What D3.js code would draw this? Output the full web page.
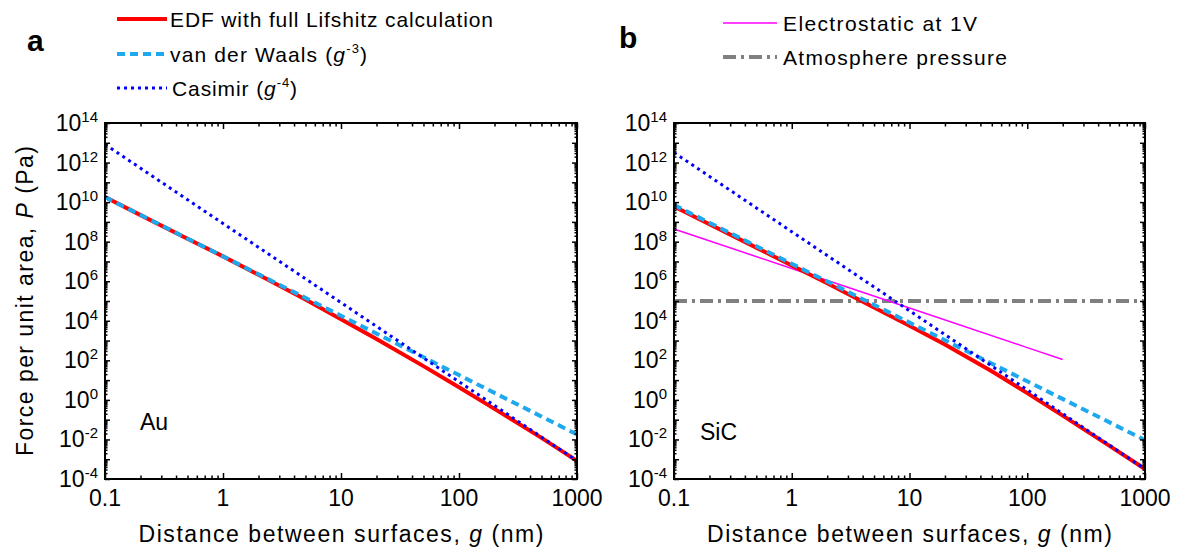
<!DOCTYPE html>
<html><head><meta charset="utf-8">
<script src="https://cdn.jsdelivr.net/npm/d3@7"></script>
<style>
html,body{margin:0;padding:0;background:#fff;}
svg{display:block;font-family:"Liberation Sans",Arial,sans-serif;}
</style></head><body>
<svg id="chart" width="1180" height="551"></svg>
<script>
// Gap distances (nm) at which the full Lifshitz pressure was sampled
const gapNm = [0.1, 0.2, 0.5, 1, 2, 5, 10, 20, 50, 100, 200, 500, 1000];
const edfAu  = [1.8e10, 2.2e9, 1.4e8, 1.8e7, 2.1e6, 1.2e5, 1.2e4, 1.2e3, 51, 4.4, 0.35, 0.012, 8.3e-4];
const edfSiC = [6.0e9, 7.6e8, 5.0e7, 6.3e6, 7.9e5, 4.7e4, 5.6e3, 630, 28, 2.2, 0.16, 4.7e-3, 3.2e-4];

// Power-law limits, one value per decade
const decadeNm   = [0.1, 1, 10, 100, 1000];
const vdwAu      = [1.8e10, 1.8e7, 1.8e4, 18, 0.018];
const casimirAu  = [8.3e12, 8.3e8, 8.3e4, 8.3, 8.3e-4];
const vdwSiC     = [7.1e9, 7.6e6, 8.1e3, 8.7, 9.3e-3];
const casimirSiC = [3.2e12, 3.2e8, 3.2e4, 3.2, 3.2e-4];

// Parallel-plate electrostatic pressure at 1 V, and one atmosphere
const elecNm = [0.1, 1, 10, 100, 200];
const elecP  = [4.4e8, 4.4e6, 4.4e4, 440, 110];
const atmNm  = [0.1, 1000];
const atmP   = [1.0e5, 1.0e5];

// Axis ticks
const xTickValues = [0.1, 1, 10, 100, 1000];
const xTickLabels = ["0.1", "1", "10", "100", "1000"];
const yTickExponents = [-4, -2, 0, 2, 4, 6, 8, 10, 12, 14];

const styles = {
  edf:     {stroke: "#ff0000", width: 4,   dash: null},
  vdw:     {stroke: "#1ea8ee", width: 4,   dash: "8,5"},
  casimir: {stroke: "#0000ff", width: 3,   dash: "3,4"},
  elec:    {stroke: "#ff00ff", width: 1.5, dash: null},
  atm:     {stroke: "#808080", width: 4,   dash: "13,5,3,5"}
};

const zip = (xs, ys) => xs.map((g, i) => ({g, p: ys[i]}));

const panels = [
  {left: 105, right: 577, top: 123, bottom: 479, material: "Au", matX: 140, matY: 430,
   series: [
     {key: "edf", pts: zip(gapNm, edfAu)},
     {key: "vdw", pts: zip(decadeNm, vdwAu)},
     {key: "casimir", pts: zip(decadeNm, casimirAu)}
   ]},
  {left: 674, right: 1145, top: 123, bottom: 479, material: "SiC", matX: 700, matY: 440,
   series: [
     {key: "atm", pts: zip(atmNm, atmP)},
     {key: "elec", pts: zip(elecNm, elecP)},
     {key: "edf", pts: zip(gapNm, edfSiC)},
     {key: "vdw", pts: zip(decadeNm, vdwSiC)},
     {key: "casimir", pts: zip(decadeNm, casimirSiC)}
   ]}
];

const svg = d3.select("#chart");

// minor ticks at 2..9 of each decade
function minorTicks(lo, hi) {
  const out = [];
  for (let e = lo; e < hi; e++) for (let k = 2; k <= 9; k++) out.push(k * Math.pow(10, e));
  return out;
}
const xMinor = minorTicks(-1, 3);
const yMinor = minorTicks(-4, 14);
const yMajor = d3.range(-4, 15).map(e => Math.pow(10, e));

panels.forEach(pn => {
  const x = d3.scaleLog().domain([0.1, 1000]).range([pn.left, pn.right]);
  const y = d3.scaleLog().domain([1e-4, 1e14]).range([pn.bottom, pn.top]);
  const g = svg.append("g");

  const line = d3.line().x(d => x(d.g)).y(d => y(d.p));
  pn.series.forEach(s => {
    const st = styles[s.key];
    g.append("path").datum(s.pts).attr("d", line)
      .attr("fill", "none").attr("stroke", st.stroke).attr("stroke-width", st.width)
      .attr("stroke-dasharray", st.dash);
  });

  // inward ticks on all four sides
  const addAxis = (axis, tx, ty) => {
    const a = g.append("g").attr("transform", `translate(${tx},${ty})`).call(axis);
    a.select(".domain").remove();
    a.selectAll("line").attr("stroke", "#000").attr("stroke-width", 1.5);
    a.selectAll("text").remove();
  };
  addAxis(d3.axisBottom(x).tickValues(xTickValues).tickSizeInner(-6).tickSizeOuter(0), 0, pn.bottom);
  addAxis(d3.axisBottom(x).tickValues(xMinor).tickSizeInner(-3.5).tickSizeOuter(0), 0, pn.bottom);
  addAxis(d3.axisTop(x).tickValues(xTickValues).tickSizeInner(-6).tickSizeOuter(0), 0, pn.top);
  addAxis(d3.axisTop(x).tickValues(xMinor).tickSizeInner(-3.5).tickSizeOuter(0), 0, pn.top);
  addAxis(d3.axisLeft(y).tickValues(yMajor).tickSizeInner(-5).tickSizeOuter(0), pn.left, 0);
  addAxis(d3.axisLeft(y).tickValues(yMinor).tickSizeInner(-2.5).tickSizeOuter(0), pn.left, 0);
  addAxis(d3.axisRight(y).tickValues(yMajor).tickSizeInner(-5).tickSizeOuter(0), pn.right, 0);
  addAxis(d3.axisRight(y).tickValues(yMinor).tickSizeInner(-2.5).tickSizeOuter(0), pn.right, 0);

  g.append("rect").attr("x", pn.left).attr("y", pn.top)
    .attr("width", pn.right - pn.left).attr("height", pn.bottom - pn.top)
    .attr("fill", "none").attr("stroke", "#000").attr("stroke-width", 2);

  // tick labels
  xTickValues.forEach((v, i) => {
    g.append("text").attr("x", x(v)).attr("y", 506).attr("text-anchor", "middle")
      .attr("font-size", 23).text(xTickLabels[i]);
  });
  yTickExponents.forEach(e => {
    const t = g.append("text").attr("x", pn.left - 7).attr("y", y(Math.pow(10, e)) + 8)
      .attr("text-anchor", "end").attr("font-size", 23);
    t.append("tspan").text("10");
    t.append("tspan").attr("dy", -9).attr("font-size", 15).text(e);
  });

  // x axis title
  const xt = g.append("text").attr("x", (pn.left + pn.right) / 2).attr("y", 542)
    .attr("text-anchor", "middle").attr("font-size", 23)
    .attr("textLength", 405).attr("lengthAdjust", "spacing");
  xt.append("tspan").text("Distance between surfaces, ");
  xt.append("tspan").attr("font-style", "italic").text("g");
  xt.append("tspan").text(" (nm)");

  g.append("text").attr("x", pn.matX).attr("y", pn.matY).attr("font-size", 23).text(pn.material);
});

// y axis title (left panel only)
const yt = svg.append("text")
  .attr("transform", "translate(33,301) rotate(-90)")
  .attr("text-anchor", "middle").attr("font-size", 23)
  .attr("textLength", 310).attr("lengthAdjust", "spacing");
yt.append("tspan").text("Force per unit area, ");
yt.append("tspan").attr("font-style", "italic").text("P");
yt.append("tspan").text(" (Pa)");

// panel letters
svg.append("text").attr("x", 27).attr("y", 51).attr("font-size", 30).attr("font-weight", "bold").text("a");
svg.append("text").attr("x", 619).attr("y", 48).attr("font-size", 30).attr("font-weight", "bold").text("b");

// legends
const legendRows = [
  {key: "edf", x0: 117, x1: 167, y: 19, tx: 170, parts: [["EDF with full Lifshitz calculation"]], len: 323},
  {key: "vdw", x0: 117, x1: 167, y: 54, tx: 170, parts: [["van der Waals ("], ["g", "i"], ["-3", "sup"], [")"]], len: 197},
  {key: "casimir", x0: 117, x1: 167, y: 88, tx: 172, parts: [["Casimir ("], ["g", "i"], ["-4", "sup"], [")"]], len: 125},
  {key: "elec", x0: 723, x1: 777, y: 23, tx: 783, parts: [["Electrostatic at 1V"]], len: 194},
  {key: "atm", x0: 723, x1: 777, y: 57, tx: 783, parts: [["Atmosphere pressure"]], len: 224}
];
legendRows.forEach(r => {
  const st = styles[r.key];
  svg.append("line").attr("x1", r.x0).attr("x2", r.x1).attr("y1", r.y).attr("y2", r.y)
    .attr("stroke", st.stroke).attr("stroke-width", st.width).attr("stroke-dasharray", st.dash);
  const t = svg.append("text").attr("x", r.tx).attr("y", r.y + 8).attr("font-size", 21)
    .attr("textLength", r.len).attr("lengthAdjust", "spacing");
  r.parts.forEach(([s, kind]) => {
    const sp = t.append("tspan").text(s);
    if (kind === "i") sp.attr("font-style", "italic");
    if (kind === "sup") sp.attr("font-size", 13).attr("dy", -9);
    if (kind === undefined && s === ")") sp.attr("dy", 9);
  });
});
</script>
</body></html>
